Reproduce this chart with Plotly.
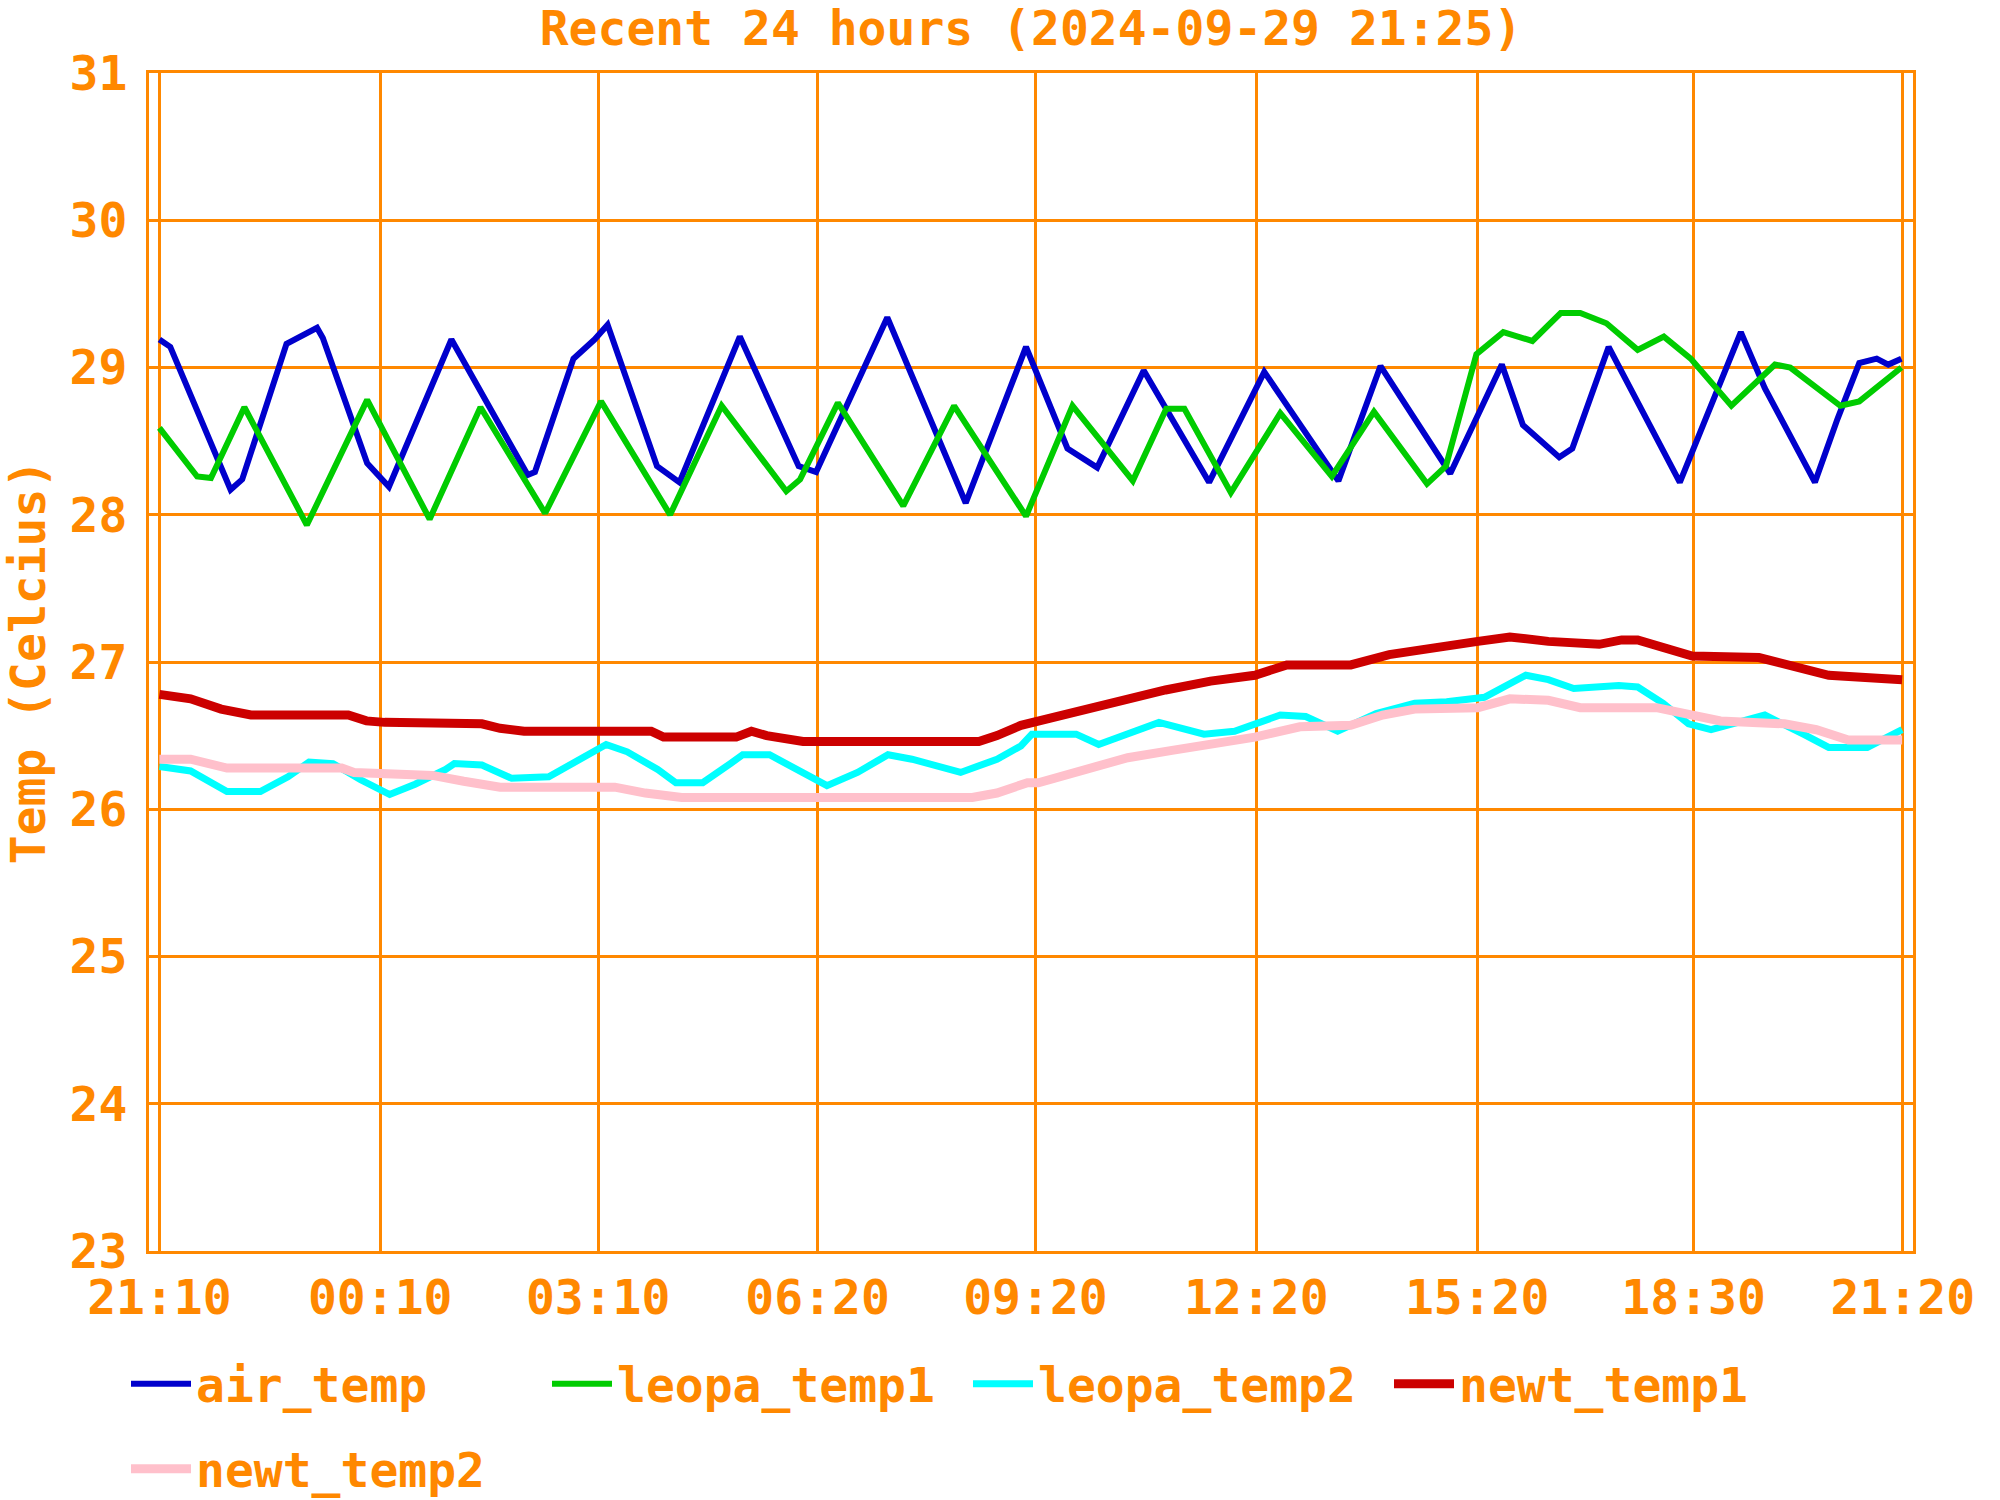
import plotly.graph_objects as go

# ---- data (hours since 21:10, temperature in Celsius) ----
tick_pos = [0, 3.04, 6.04, 9.06, 12.06, 15.1, 18.14, 21.12, 24.0]
tick_text = ["21:10", "00:10", "03:10", "06:20", "09:20", "12:20", "15:20", "18:30", "21:20"]
y_ticks = [23, 24, 25, 26, 27, 28, 29, 30, 31]

air_t = [0, 0.15, 0.98, 1.14, 1.75, 2.17, 2.25, 2.86, 3.16, 4.02, 5.07, 5.17, 5.7, 5.99, 6.17,
         6.85, 7.16, 7.99, 8.8, 9.04, 10.02, 11.10, 11.93, 12.5, 12.91, 13.55, 14.45, 15.21,
         16.23, 16.81, 17.77, 18.48, 18.77, 19.27, 19.45, 19.95, 20.93, 21.77, 22.1, 22.79,
         23.1, 23.4, 23.64, 23.8, 23.98]
air_v = [29.19, 29.14, 28.17, 28.24, 29.16, 29.27, 29.2, 28.35, 28.19, 29.19, 28.27, 28.29, 29.06,
         29.19, 29.29, 28.33, 28.22, 29.21, 28.33, 28.29, 29.34, 28.08, 29.14, 28.45, 28.32, 28.98,
         28.22, 28.97, 28.23, 29.01, 28.28, 29.02, 28.61, 28.39, 28.45, 29.14, 28.22, 29.24, 28.86,
         28.22, 28.65, 29.03, 29.06, 29.02, 29.06]

leopa1_t = [0, 0.52, 0.71, 1.17, 2.03, 2.86, 3.72, 4.42, 5.31, 6.08, 7.03, 7.74, 8.63, 8.82, 9.34,
            10.24, 10.94, 11.93, 12.57, 13.4, 13.86, 14.11, 14.75, 15.43, 16.14, 16.72, 17.45,
            17.71, 18.13, 18.5, 18.9, 19.29, 19.56, 19.92, 20.35, 20.71, 21.08, 21.64, 22.24,
            22.45, 23.14, 23.4, 23.98]
leopa1_v = [28.59, 28.26, 28.25, 28.73, 27.93, 28.78, 27.97, 28.73, 28.01, 28.77, 28.0, 28.74,
            28.16, 28.24, 28.76, 28.06, 28.74, 27.99, 28.74, 28.23, 28.72, 28.72, 28.15, 28.69,
            28.26, 28.70, 28.21, 28.33, 29.09, 29.24, 29.18, 29.37, 29.37, 29.30, 29.12, 29.21,
            29.06, 28.74, 29.02, 29.0, 28.74, 28.77, 29.0]

leopa2_t = [0, 0.43, 0.93, 1.39, 1.77, 2.06, 2.39, 2.77, 3.17, 3.52, 3.94, 4.06, 4.44, 4.85, 5.36,
            5.77, 6.15, 6.44, 6.86, 7.11, 7.48, 7.86, 8.03, 8.40, 8.78, 9.19, 9.61, 10.03, 10.36,
            11.03, 11.53, 11.86, 12.01, 12.62, 12.93, 13.76, 14.38, 14.8, 15.43, 15.78, 16.22,
            16.75, 17.28, 17.72, 18.24, 18.81, 19.12, 19.47, 20.09, 20.35, 20.70, 21.05, 21.36,
            22.1, 22.63, 22.98, 23.51, 23.99]
leopa2_v = [26.29, 26.26, 26.12, 26.12, 26.22, 26.32, 26.31, 26.20, 26.10, 26.17, 26.27, 26.31,
            26.30, 26.21, 26.22, 26.33, 26.44, 26.39, 26.27, 26.18, 26.18, 26.31, 26.37, 26.37,
            26.27, 26.16, 26.25, 26.37, 26.34, 26.25, 26.34, 26.43, 26.51, 26.51, 26.44, 26.59,
            26.51, 26.53, 26.64, 26.63, 26.53, 26.65, 26.72, 26.73, 26.76, 26.91, 26.88, 26.82,
            26.84, 26.83, 26.72, 26.58, 26.54, 26.64, 26.51, 26.42, 26.42, 26.54]

newt1_t = [0, 0.43, 0.85, 1.26, 2.60, 2.85, 3.10, 4.44, 4.69, 5.02, 6.77, 6.94, 7.94, 8.15, 8.36,
           8.86, 11.28, 11.53, 11.86, 12.10, 12.71, 13.33, 13.85, 14.47, 15.08, 15.52, 16.40,
           16.93, 17.54, 18.15, 18.59, 19.12, 19.82, 20.13, 20.35, 20.70, 21.10, 22.02, 22.46,
           22.98, 23.99]
newt1_v = [26.78, 26.75, 26.68, 26.64, 26.64, 26.60, 26.59, 26.58, 26.55, 26.53, 26.53, 26.49,
           26.49, 26.53, 26.50, 26.46, 26.46, 26.50, 26.57, 26.60, 26.67, 26.74, 26.81, 26.87,
           26.91, 26.98, 26.98, 27.05, 27.10, 27.14, 27.17, 27.14, 27.12, 27.15, 27.15, 27.10,
           27.04, 27.03, 26.97, 26.91, 26.88]

newt2_t = [0, 0.43, 0.93, 2.51, 2.68, 3.76, 4.19, 4.69, 6.27, 6.69, 7.19, 11.19, 11.53, 11.95,
           12.10, 12.71, 13.33, 13.94, 14.47, 15.08, 15.70, 16.40, 16.84, 17.28, 18.15, 18.59,
           19.12, 19.56, 20.61, 21.05, 21.49, 22.37, 22.81, 23.25, 23.99]
newt2_v = [26.34, 26.34, 26.28, 26.28, 26.25, 26.23, 26.19, 26.15, 26.15, 26.11, 26.08, 26.08,
           26.11, 26.18, 26.18, 26.27, 26.35, 26.40, 26.44, 26.49, 26.56, 26.57, 26.64, 26.68,
           26.69, 26.75, 26.74, 26.69, 26.69, 26.64, 26.60, 26.58, 26.54, 26.47, 26.47]

series_names = ["air_temp", "leopa_temp1", "leopa_temp2", "newt_temp1", "newt_temp2"]

# ---- style ----
ORANGE = "#ff8800"
FONT = dict(family="DejaVu Sans Mono", size=48, color=ORANGE, weight="bold")
colors = ["#0000cc", "#00cc00", "#00ffff", "#cc0000", "#ffc0cb"]
widths = [6, 6, 7, 9, 9]
legends = ["legend", "legend", "legend", "legend", "legend2"]

xs = [air_t, leopa1_t, leopa2_t, newt1_t, newt2_t]
ys = [air_v, leopa1_v, leopa2_v, newt1_v, newt2_v]

fig = go.Figure()
for name, x, y, c, w, lg in zip(series_names, xs, ys, colors, widths, legends):
    fig.add_trace(go.Scatter(x=x, y=y, mode="lines", name=name,
                             line=dict(color=c, width=w), legend=lg))

fig.update_layout(
    width=2000, height=1500,
    paper_bgcolor="white", plot_bgcolor="white",
    margin=dict(l=149, r=87, t=73, b=249, autoexpand=False),
    font=FONT,
    title=dict(text="Recent 24 hours (2024-09-29 21:25)", font=FONT,
               x=0.5, xref="paper", y=1 - 28 / 1500, yref="container",
               xanchor="center", yanchor="middle"),
    legend=dict(orientation="h", xref="container", yref="container",
                x=0.063, y=1 - 1384 / 1500, xanchor="left", yanchor="middle",
                font=FONT, itemwidth=60, entrywidth=346, bgcolor="rgba(0,0,0,0)"),
    legend2=dict(orientation="h", xref="container", yref="container",
                 x=0.063, y=1 - 1469 / 1500, xanchor="left", yanchor="middle",
                 font=FONT, itemwidth=60, bgcolor="rgba(0,0,0,0)"),
    showlegend=True,
)

fig.update_xaxes(range=[-0.143, 24.14], tickvals=tick_pos, ticktext=tick_text,
                 showgrid=True, gridcolor=ORANGE, gridwidth=3,
                 showline=True, linecolor=ORANGE, linewidth=3, mirror=True,
                 ticks="", ticklabelstandoff=2, tickfont=FONT, zeroline=False)
fig.update_yaxes(range=[23, 31], tickvals=y_ticks,
                 showgrid=True, gridcolor=ORANGE, gridwidth=3,
                 showline=True, linecolor=ORANGE, linewidth=3, mirror=True,
                 ticks="", ticklabelstandoff=9, tickfont=FONT, zeroline=False,
                 title=dict(text="Temp (Celcius)", font=FONT, standoff=10),
                 automargin=False)

fig.write_html("out.html")
